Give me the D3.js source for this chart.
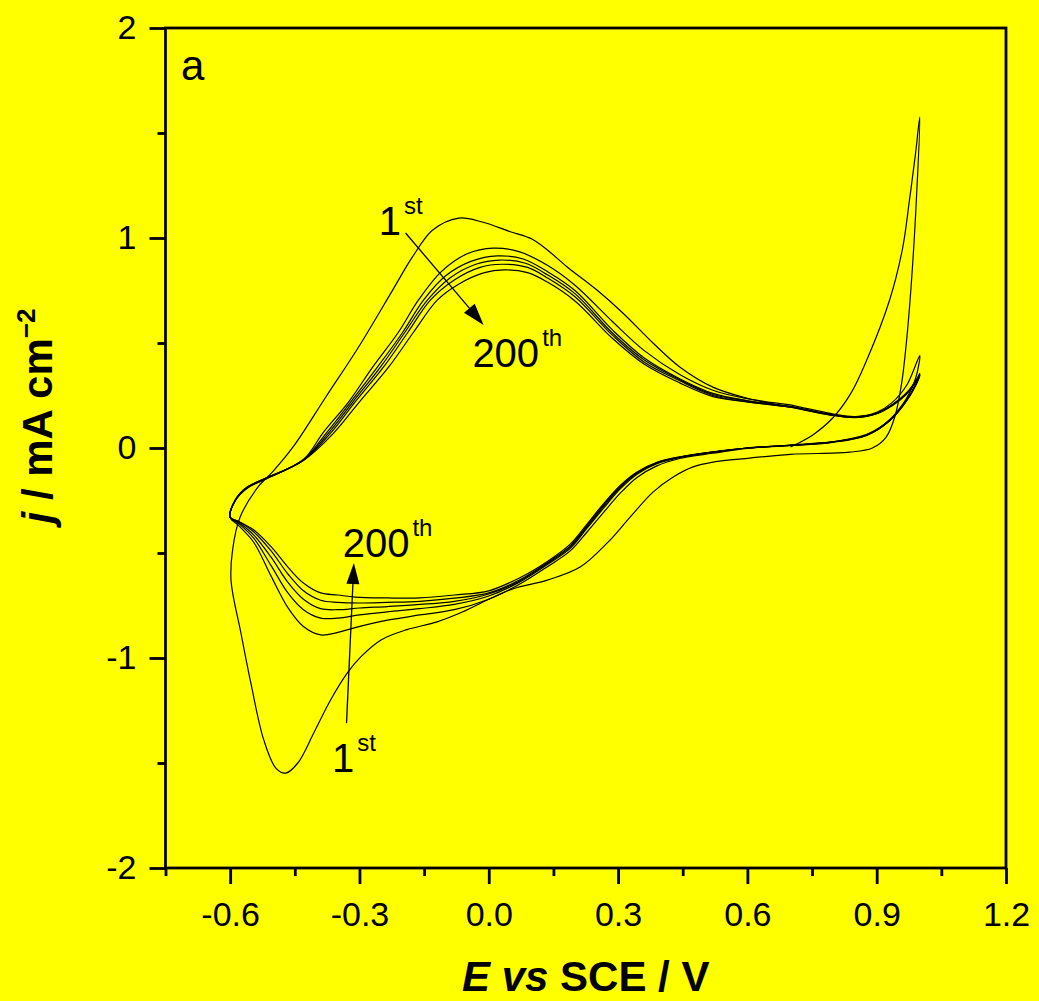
<!DOCTYPE html>
<html><head><meta charset="utf-8">
<script src="https://cdn.jsdelivr.net/npm/d3@7"></script>
<style>
html,body{margin:0;padding:0;background:#ffff00;}
svg{display:block;font-family:"Liberation Sans",Arial,sans-serif;}
</style></head><body>
<svg id="chart" width="1039" height="1001"></svg>
<script>
// ---------- data (E / V vs SCE, j / mA cm^-2) ----------
const xTicks = [-0.6, -0.3, 0.0, 0.3, 0.6, 0.9, 1.2];
const xMinorTicks = [-0.75, -0.45, -0.15, 0.15, 0.45, 0.75, 1.05];
const yTicks = [-2, -1, 0, 1, 2];
const yMinorTicks = [-1.5, -0.5, 0.5, 1.5];

// 1st cycle: starts at 0.7 V, anodic to 1.0 V, cathodic to -0.6 V, back to 0.7 V
const cycle1 = [
 [0.700,0.005],[0.750,0.060],[0.798,0.143],[0.840,0.260],[0.877,0.419],[0.930,0.705],[0.960,0.950],[0.976,1.180],[0.990,1.400],[1.000,1.576],
 [0.992,1.180],[0.983,0.862],[0.971,0.548],[0.958,0.310],[0.942,0.148],[0.922,0.052],[0.890,0.000],[0.837,-0.020],[0.700,-0.030],[0.605,-0.048],
 [0.520,-0.067],[0.474,-0.090],[0.428,-0.138],[0.381,-0.210],[0.328,-0.329],[0.275,-0.452],[0.212,-0.567],[0.136,-0.629],[0.057,-0.670],[0.000,-0.720],
 [-0.060,-0.780],[-0.120,-0.828],[-0.190,-0.865],[-0.250,-0.914],[-0.297,-0.995],[-0.328,-1.071],[-0.367,-1.200],[-0.406,-1.357],[-0.443,-1.500],
 [-0.471,-1.548],[-0.494,-1.524],[-0.522,-1.390],[-0.552,-1.119],[-0.575,-0.881],[-0.598,-0.629],
 [-0.594,-0.480],[-0.577,-0.330],[-0.537,-0.190],[-0.500,-0.110],[-0.454,0.005],[-0.378,0.243],[-0.302,0.481],[-0.223,0.752],[-0.177,0.910],
 [-0.130,1.038],[-0.070,1.095],[-0.015,1.076],[0.050,1.030],[0.100,0.995],[0.136,0.943],[0.182,0.862],[0.251,0.752],[0.311,0.643],[0.381,0.500],
 [0.443,0.386],[0.520,0.290],[0.598,0.238],[0.698,0.195]
];

const cycleA = [
 [0.70,0.205],[0.80,0.162],[0.85,0.150],[0.90,0.170],[0.935,0.215],[0.97,0.300],[1.00,0.440],
 [0.99,0.330],[0.969,0.235],[0.93,0.135],[0.877,0.065],[0.798,0.030],[0.698,0.014],[0.599,-0.002],[0.52,-0.025],[0.443,-0.050],[0.39,-0.085],
 [0.344,-0.140],[0.305,-0.215],[0.265,-0.310],[0.228,-0.400],[0.189,-0.490],[0.136,-0.565],[0.07,-0.650],[0.0,-0.720],[-0.08,-0.770],[-0.16,-0.795],
 [-0.235,-0.820],[-0.31,-0.855],[-0.35,-0.878],[-0.39,-0.890],[-0.43,-0.850],[-0.466,-0.760],[-0.505,-0.610],[-0.545,-0.450],[-0.58,-0.370],[-0.60,-0.330],
 [-0.588,-0.250],[-0.56,-0.190],[-0.52,-0.150],[-0.43,-0.055],[-0.385,0.071],[-0.325,0.220],[-0.269,0.386],[-0.21,0.550],[-0.163,0.705],[-0.11,0.840],
 [-0.05,0.925],[0.01,0.952],[0.07,0.935],[0.136,0.870],[0.20,0.775],[0.288,0.600],[0.36,0.465],[0.443,0.350],[0.52,0.275],[0.60,0.235],[0.70,0.205]
];

const cycleB = [
 [0.70,0.198],[0.80,0.158],[0.85,0.148],[0.90,0.166],[0.935,0.205],[0.969,0.262],[0.992,0.325],[1.00,0.355],
 [0.992,0.310],[0.969,0.228],[0.93,0.132],[0.877,0.063],[0.798,0.029],[0.698,0.013],[0.599,0.000],[0.52,-0.020],[0.443,-0.045],[0.39,-0.075],
 [0.344,-0.125],[0.305,-0.195],[0.265,-0.290],[0.228,-0.382],[0.189,-0.478],[0.136,-0.555],[0.07,-0.640],[0.0,-0.705],[-0.08,-0.745],[-0.16,-0.765],
 [-0.235,-0.780],[-0.30,-0.795],[-0.35,-0.810],[-0.39,-0.810],[-0.43,-0.770],[-0.466,-0.690],[-0.505,-0.560],[-0.545,-0.430],[-0.58,-0.360],[-0.60,-0.330],
 [-0.588,-0.250],[-0.56,-0.190],[-0.52,-0.150],[-0.43,-0.056],[-0.377,0.071],[-0.32,0.220],[-0.258,0.386],[-0.20,0.550],[-0.151,0.705],[-0.10,0.820],
 [-0.04,0.890],[0.02,0.915],[0.08,0.900],[0.136,0.840],[0.20,0.750],[0.288,0.560],[0.36,0.430],[0.443,0.330],[0.52,0.260],[0.60,0.225],[0.70,0.198]
];

const cycleC = [
 [0.70,0.197],[0.80,0.157],[0.85,0.147],[0.90,0.165],[0.935,0.203],[0.969,0.260],[0.992,0.322],[1.00,0.350],
 [0.992,0.308],[0.969,0.226],[0.93,0.131],[0.877,0.062],[0.798,0.029],[0.698,0.013],[0.599,0.000],[0.52,-0.020],[0.443,-0.044],[0.39,-0.072],
 [0.344,-0.120],[0.305,-0.188],[0.265,-0.282],[0.228,-0.376],[0.189,-0.472],[0.136,-0.550],[0.07,-0.635],[0.0,-0.695],[-0.08,-0.730],[-0.16,-0.745],
 [-0.235,-0.755],[-0.30,-0.762],[-0.35,-0.770],[-0.39,-0.765],[-0.43,-0.720],[-0.466,-0.640],[-0.505,-0.520],[-0.545,-0.415],[-0.58,-0.355],[-0.60,-0.330],
 [-0.588,-0.250],[-0.56,-0.188],[-0.52,-0.148],[-0.43,-0.057],[-0.372,0.071],[-0.315,0.220],[-0.251,0.386],[-0.195,0.550],[-0.142,0.705],[-0.09,0.810],
 [-0.03,0.875],[0.025,0.895],[0.085,0.880],[0.136,0.825],[0.20,0.735],[0.288,0.545],[0.36,0.420],[0.443,0.325],[0.52,0.255],[0.60,0.225],[0.70,0.197]
];

const cycleD = [
 [0.70,0.196],[0.80,0.156],[0.85,0.146],[0.90,0.164],[0.935,0.202],[0.969,0.258],[0.992,0.320],[1.00,0.348],
 [0.992,0.306],[0.969,0.225],[0.93,0.130],[0.877,0.061],[0.798,0.028],[0.698,0.012],[0.599,0.000],[0.52,-0.019],[0.443,-0.043],[0.39,-0.070],
 [0.344,-0.117],[0.305,-0.183],[0.265,-0.275],[0.228,-0.370],[0.189,-0.466],[0.136,-0.545],[0.07,-0.630],[0.0,-0.690],[-0.08,-0.715],[-0.16,-0.730],
 [-0.235,-0.735],[-0.30,-0.738],[-0.35,-0.735],[-0.39,-0.725],[-0.43,-0.680],[-0.466,-0.600],[-0.505,-0.490],[-0.545,-0.400],[-0.58,-0.350],[-0.60,-0.330],
 [-0.588,-0.248],[-0.56,-0.186],[-0.52,-0.147],[-0.43,-0.058],[-0.367,0.071],[-0.31,0.220],[-0.244,0.386],[-0.188,0.550],[-0.135,0.705],[-0.08,0.800],
 [-0.02,0.860],[0.03,0.875],[0.09,0.860],[0.136,0.810],[0.20,0.720],[0.288,0.535],[0.36,0.410],[0.443,0.320],[0.52,0.250],[0.60,0.220],[0.70,0.196]
];

const cycleE = [
 [0.70,0.195],[0.80,0.155],[0.85,0.145],[0.90,0.163],[0.935,0.200],[0.969,0.256],[0.992,0.318],[1.00,0.345],
 [0.992,0.304],[0.969,0.223],[0.93,0.129],[0.877,0.060],[0.798,0.027],[0.698,0.011],[0.599,0.000],[0.52,-0.018],[0.443,-0.042],[0.39,-0.068],
 [0.344,-0.114],[0.305,-0.178],[0.265,-0.268],[0.228,-0.362],[0.189,-0.458],[0.136,-0.540],[0.07,-0.620],[0.0,-0.680],[-0.08,-0.700],[-0.16,-0.714],
 [-0.235,-0.714],[-0.31,-0.710],[-0.35,-0.700],[-0.39,-0.690],[-0.43,-0.643],[-0.466,-0.567],[-0.505,-0.470],[-0.545,-0.390],[-0.58,-0.350],[-0.60,-0.330],
 [-0.588,-0.246],[-0.56,-0.185],[-0.52,-0.146],[-0.43,-0.059],[-0.36,0.071],[-0.30,0.220],[-0.232,0.386],[-0.175,0.550],[-0.119,0.705],[-0.07,0.780],
 [-0.01,0.835],[0.035,0.848],[0.09,0.835],[0.136,0.790],[0.20,0.700],[0.288,0.520],[0.36,0.400],[0.443,0.310],[0.52,0.245],[0.60,0.220],[0.70,0.195]
];

const cycles = [cycle1, cycleA, cycleB, cycleC, cycleD, cycleE];

// annotations (data coordinates)
const arrowTop = {from: [-0.193, 1.024], to: [-0.012, 0.586]};
const arrowBottom = {from: [-0.330, -1.310], to: [-0.313, -0.548]};
const labels = [
  {pos: [-0.255, 1.014], main: "1", sup: "st"},
  {pos: [-0.038, 0.386], main: "200", sup: "th"},
  {pos: [-0.339, -0.520], main: "200", sup: "th"},
  {pos: [-0.364, -1.543], main: "1", sup: "st"}
];
const panelLabel = {pos: [-0.714, 1.752], text: "a"};

// ---------- drawing ----------
const svg = d3.select("#chart");
svg.append("rect").attr("width",1039).attr("height",1001).attr("fill","#ffff00");

const x = d3.scaleLinear().domain([-0.75, 1.2]).range([165.5, 1006]);
const y = d3.scaleLinear().domain([-2, 2]).range([868, 28]);

const AX = 2.8;

// x axis major
const gx = svg.append("g").attr("transform", `translate(0,${y(-2)})`)
  .call(d3.axisBottom(x).tickValues(xTicks).tickSize(16).tickPadding(18).tickFormat(d => d.toFixed(1)));
gx.select(".domain").remove();
gx.selectAll(".tick line").attr("stroke","#000").attr("stroke-width",AX);
gx.selectAll(".tick text").attr("font-size",34).attr("fill","#000").attr("font-family","Liberation Sans, Arial, sans-serif");
// x axis minor
const gxm = svg.append("g").attr("transform", `translate(0,${y(-2)})`)
  .call(d3.axisBottom(x).tickValues(xMinorTicks).tickSize(8).tickFormat(""));
gxm.select(".domain").remove();
gxm.selectAll(".tick line").attr("stroke","#000").attr("stroke-width",AX);

// y axis major
const gy = svg.append("g").attr("transform", `translate(${x(-0.75)},0)`)
  .call(d3.axisLeft(y).tickValues(yTicks).tickSize(16).tickPadding(13).tickFormat(d => String(d)));
gy.select(".domain").remove();
gy.selectAll(".tick line").attr("stroke","#000").attr("stroke-width",AX);
gy.selectAll(".tick text").attr("font-size",34).attr("fill","#000").attr("font-family","Liberation Sans, Arial, sans-serif");
const gym = svg.append("g").attr("transform", `translate(${x(-0.75)},0)`)
  .call(d3.axisLeft(y).tickValues(yMinorTicks).tickSize(8).tickFormat(""));
gym.select(".domain").remove();
gym.selectAll(".tick line").attr("stroke","#000").attr("stroke-width",AX);

// frame
svg.append("rect")
  .attr("x", x(-0.75)).attr("y", y(2))
  .attr("width", x(1.2) - x(-0.75)).attr("height", y(-2) - y(2))
  .attr("fill","none").attr("stroke","#000").attr("stroke-width",AX);

// curves
const line = d3.line().x(d => x(d[0])).y(d => y(d[1])).curve(d3.curveCatmullRom.alpha(0.5));
svg.append("g").selectAll("path").data(cycles).join("path")
  .attr("d", line).attr("fill","none").attr("stroke","#000").attr("stroke-width",1.2)
  .attr("stroke-linejoin","round");

// arrows
function arrow(a, headLen, headHalf) {
  const x1 = x(a.from[0]), y1 = y(a.from[1]), x2 = x(a.to[0]), y2 = y(a.to[1]);
  const dx = x2 - x1, dy = y2 - y1, L = Math.hypot(dx, dy);
  const ux = dx / L, uy = dy / L;
  const bx = x2 - ux * headLen, by = y2 - uy * headLen;
  svg.append("line").attr("x1",x1).attr("y1",y1).attr("x2",bx).attr("y2",by)
    .attr("stroke","#000").attr("stroke-width",1.3);
  svg.append("path")
    .attr("d", `M${x2},${y2}L${bx - uy*headHalf},${by + ux*headHalf}L${bx + uy*headHalf},${by - ux*headHalf}Z`)
    .attr("fill","#000");
}
arrow(arrowTop, 22, 7);
arrow(arrowBottom, 21, 6.5);

// labels
labels.forEach(l => {
  const t = svg.append("text").attr("x", x(l.pos[0])).attr("y", y(l.pos[1]))
    .attr("font-size", 40).attr("fill","#000");
  t.append("tspan").text(l.main);
  t.append("tspan").attr("font-size", 24).attr("dx", 3).attr("dy", -21).text(l.sup);
});
svg.append("text").attr("x", x(panelLabel.pos[0])).attr("y", y(panelLabel.pos[1]))
  .attr("font-size", 42).attr("fill","#000").text(panelLabel.text);

// axis titles
const xt = svg.append("text").attr("x", (x(-0.75) + x(1.2)) / 2).attr("y", 991)
  .attr("text-anchor","middle").attr("font-size",42).attr("font-weight","bold").attr("fill","#000");
xt.append("tspan").attr("font-style","italic").text("E vs");
xt.append("tspan").text(" SCE / V");

const yt = svg.append("text").attr("transform","translate(52,416) rotate(-90)")
  .attr("text-anchor","middle").attr("font-size",42).attr("font-weight","bold").attr("fill","#000");
yt.append("tspan").attr("font-style","italic").text("j");
yt.append("tspan").text(" / mA cm");
yt.append("tspan").attr("font-size",26).attr("dy",-17).text("\u22122");
</script>
</body></html>
